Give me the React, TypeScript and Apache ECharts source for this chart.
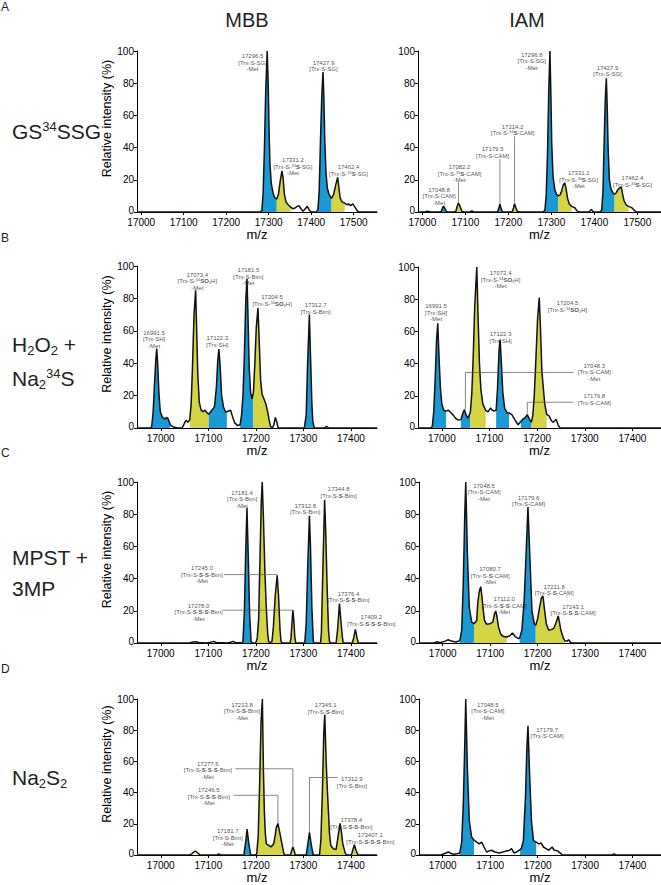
import React, { useEffect, useRef } from "react";
import * as echarts from "echarts";

type Pt = [number, number];
type Fill = [number, number, "blue" | "yellow"];
type Lab = [number, number, string];

const FONT = "'Liberation Sans', Arial, Helvetica, sans-serif";
const BLUE = "#1b99d4";
const YELLOW = "#d4d545";

// ---------- axis tick labels ----------
const ticksA = [17000, 17100, 17200, 17300, 17400, 17500];
const ticksBCD = [17000, 17100, 17200, 17300, 17400];

// ---------- A: GS34SSG ----------
const mbbA: Pt[] = [[16990,0],[17280,0],[17284,1],[17287,12],[17290,40],[17293,75],[17296.5,100],[17299,78],[17301,50],[17303,30],[17306,18],[17310,12],[17314,9],[17319,8],[17323,11],[17327,19],[17331.2,25.5],[17334,21],[17337,11],[17341,6],[17346,4.5],[17352,3],[17357,2],[17362,2.5],[17367,3.5],[17371,4],[17376,2],[17381,0.5],[17386,2],[17391,3.5],[17396,1],[17401,0],[17412,0],[17416,1.5],[17419,14],[17422,45],[17425,72],[17427.9,87],[17430,70],[17432,45],[17435,24],[17438,15],[17442,11],[17448,8.5],[17453,11],[17458,17],[17462.4,21.5],[17465,16],[17468,9],[17472,6.5],[17479,5.5],[17484,4.5],[17488,5],[17493,4],[17498,5],[17503,3],[17508,1],[17512,0],[17555,0]];
const mbbAFill: Fill[] = [[17284,17319,"blue"],[17319,17352,"yellow"],[17416,17448,"blue"],[17448,17479,"yellow"]];
const mbbALabels: Lab[] = [
  [17262, 99, "17296.5\n[Trx-S-SG]\n-Met"],
  [17429, 95, "17427.9\n[Trx-S-SG]"],
  [17357, 34.5, "17331.2\n[Trx-S-{sp|34}{bd|S}-SG]\n-Met"],
  [17488, 30, "17462.4\n[Trx-S-{sp|34}{bd|S}-SG]"],
];
const mbbALeaders: Pt[][] = [];

const iamA: Pt[] = [[16990,0],[17005,0],[17012,0.5],[17020,0],[17040,0],[17044,0.3],[17047,2.5],[17049.5,3.7],[17052,2.5],[17056,0.3],[17060,0],[17074,0],[17078,0.5],[17081,3.5],[17084,5.6],[17087,4],[17092,0.5],[17096,0],[17110,0],[17115,0.6],[17120,0],[17175,0],[17178,2.5],[17180.5,4.8],[17183,2.5],[17186,0.2],[17209,0],[17212,2.5],[17214.5,5.2],[17217,3],[17221,0.3],[17226,0],[17281,0],[17285,1],[17288,10],[17291,35],[17294,75],[17296.8,100],[17299,72],[17301,42],[17304,22],[17308,14],[17312,11],[17316,10],[17320,10.5],[17324,13],[17328,17],[17331.2,18],[17334,15],[17338,8],[17342,5],[17347,3.5],[17351,3],[17355,2.5],[17360,0.5],[17365,0],[17388,0],[17393,1.5],[17398,0],[17413,0],[17417,1],[17420,12],[17423,45],[17425.5,70],[17427.9,83],[17430,65],[17432,40],[17435,20],[17439,14],[17443,12],[17447,11],[17451,12],[17455,14],[17459,15],[17462.4,15.5],[17465,12],[17469,7],[17474,4.5],[17479,3.5],[17484,3],[17488,2.5],[17493,1],[17497,0],[17555,0]];
const iamAFill: Fill[] = [[17044,17056,"blue"],[17078,17092,"yellow"],[17175,17186,"blue"],[17209,17221,"yellow"],[17285,17316,"blue"],[17316,17347,"yellow"],[17417,17447,"blue"],[17447,17479,"yellow"]];
const iamALabels: Lab[] = [
  [17039, 16, "17048.8\n[Trx-S-CAM]\n-Met"],
  [17086.6, 30, "17082.2\n[Trx-S-{sp|34}{bd|S}-CAM]\n-Met"],
  [17163.5, 41.4, "17179.5\n[Trx-S-CAM]"],
  [17210, 55.3, "17214.2\n[Trx-S-{sp|34}{bd|S}-CAM]"],
  [17254.5, 100, "17296.8\n[Trx-S-SG]\n-Met"],
  [17430.7, 92, "17427.9\n[Trx-S-SG]"],
  [17363.7, 26.3, "17331.2\n[Trx-S-{sp|34}{bd|S}-SG]\n-Met"],
  [17488.5, 23.4, "17462.4\n[Trx-S-{sp|34}{bd|S}-SG]"],
];
const iamALeaders: Pt[][] = [
  [[17084, 5.6], [17084, 18.5]],
  [[17180.5, 4.8], [17180.5, 33]],
  [[17214.5, 5.2], [17214.5, 47]],
];

// ---------- B: H2O2 + Na2 34S ----------
const mbbB: Pt[] = [[16950,0],[16978,0],[16981,1],[16984,10],[16987,28],[16989.5,42],[16991.5,49],[16993.5,40],[16996,22],[16999,10],[17003,7],[17008,5.5],[17012,6.5],[17015,6],[17020,2],[17025,0.8],[17035,0],[17045,0],[17050,3],[17053,4.7],[17057,3.5],[17061,5],[17064,15],[17067,40],[17070,70],[17073.4,85],[17076,55],[17078,33],[17081,16],[17085,11],[17089,10],[17093,11],[17097,9.5],[17101,8.5],[17105,10],[17109,11.5],[17113,13],[17117,25],[17120,42],[17122.3,48.7],[17125,38],[17128,20],[17132,13],[17136,10],[17139,10],[17143,10.5],[17147,11],[17151,7],[17156,3],[17162,1.5],[17167,2],[17170,8],[17173,20],[17176,45],[17179,80],[17181.5,92],[17183.5,70],[17186,38],[17189,22],[17192,18],[17195,22],[17198,40],[17201,62],[17204.5,74],[17207,55],[17210,30],[17213,21],[17217,18],[17221,15],[17225,10],[17228,5],[17231,1],[17235,0],[17238,2],[17241,6.5],[17244,4],[17247,0],[17250,0],[17302,0],[17306,8],[17309,40],[17312.7,70],[17315,45],[17318,15],[17320,4],[17323,0],[17345,0],[17349,1],[17353,0],[17455,0]];
const mbbBFill: Fill[] = [[16981,17020,"blue"],[17061,17101,"yellow"],[17101,17139,"blue"],[17167,17195,"blue"],[17195,17231,"yellow"],[17302,17323,"blue"]];
const mbbBLabels: Lab[] = [
  [16986, 61, "16991.5\n[Trx-SH]\n-Met"],
  [17077, 97, "17073.4\n[Trx-S-{sp|34}{bd|SO}{sb|3}H]\n-Met"],
  [17119, 57.7, "17122.3\n[Trx-SH]"],
  [17184.4, 99.6, "17181.5\n[Trx-S-Bim]\n-Met"],
  [17234.3, 83, "17204.5\n[Trx-S-{sp|34}{bd|SO}{sb|3}H]"],
  [17326, 78, "17312.7\n[Trx-S-Bim]"],
];
const mbbBLeaders: Pt[][] = [];

const iamB: Pt[] = [[16950,0],[16977,0],[16980,1],[16983,10],[16986,30],[16989,55],[16991.5,65],[16994,45],[16997,25],[17000,15],[17004,11],[17009,10.5],[17014,11],[17019,9.5],[17024,8],[17029,6],[17034,5],[17040,5.2],[17044,9],[17047.5,11.4],[17051,8],[17055,6],[17060,10],[17063,22],[17066,45],[17069,75],[17073.4,100],[17076,70],[17079,40],[17082,24],[17086,15],[17092,11],[17097,10],[17102,12.4],[17106,11],[17110,10.5],[17114,11],[17117,25],[17120,48],[17122.3,55],[17125,40],[17128,22],[17132,12],[17137,9.5],[17141,9.3],[17147,8.3],[17153,5.2],[17160,2],[17166,4],[17170,5.5],[17175,6.5],[17179.4,8.3],[17183,6],[17188,3.5],[17191,8],[17194,20],[17197,40],[17201,68],[17204.5,81],[17207,62],[17210,35],[17213,25],[17216,15],[17220,8.5],[17225,7.5],[17230,4.5],[17234,3.5],[17240,5.5],[17244,2],[17248,0],[17460,0]];
const iamBFill: Fill[] = [[16980,17009,"blue"],[17040,17060,"blue"],[17060,17092,"yellow"],[17114,17141,"blue"],[17166,17188,"blue"],[17188,17220,"yellow"]];
const iamBLabels: Lab[] = [
  [16988, 78, "16991.5\n[Trx-SH]\n-Met"],
  [17123.4, 98.3, "17073.4\n[Trx-S-{sp|34}{bd|SO}{sb|3}H]\n-Met"],
  [17123.4, 60.7, "17122.3\n[Trx-SH]"],
  [17263.6, 79.7, "17204.5\n[Trx-S-{sp|34}{bd|SO}{sb|3}H]"],
  [17320, 41, "17048.3\n[Trx-S-CAM]\n-Met"],
  [17320, 22, "17179.8\n[Trx-S-CAM]"],
];
const iamBLeaders: Pt[][] = [
  [[17276, 34.5], [17049.5, 34.5], [17049.5, 11.4]],
  [[17276, 16], [17179.4, 16], [17179.4, 9]],
];

// ---------- C: MPST + 3MP ----------
const mbbC: Pt[] = [[16950,0],[17060,0],[17068,0.6],[17074,0.8],[17080,0.3],[17095,0],[17105,0.4],[17111,1],[17117,0.3],[17140,0],[17147,0.5],[17152,1],[17157,0.3],[17170,0],[17173,1],[17176,20],[17179,60],[17181.4,84],[17184,55],[17187,18],[17190,1],[17193,0],[17200,0],[17203,3],[17206,15],[17209,55],[17211.5,88],[17213.5,100],[17216,78],[17219,45],[17222,22],[17225,6],[17227,1],[17230,0],[17234,1],[17237,10],[17241,30],[17245,42],[17248,28],[17251,8],[17253,1],[17256,0],[17272,0],[17274,3],[17276.5,14],[17278,20.4],[17280,14],[17282,4],[17284,0],[17303,0],[17306,12],[17309,45],[17312.8,79],[17315,60],[17318,22],[17321,1],[17324,0],[17336,0],[17338,6],[17341,45],[17344.8,89],[17347,70],[17350,35],[17353,8],[17355,1],[17358,0],[17369,0],[17372,8],[17376,24.5],[17379,14],[17382,4],[17384,0],[17403,0],[17405,2],[17409.5,8.5],[17413,3],[17416,0],[17455,0]];
const mbbCFill: Fill[] = [[17173,17190,"blue"],[17203,17227,"yellow"],[17234,17253,"yellow"],[17272,17284,"yellow"],[17303,17321,"blue"],[17336,17355,"yellow"],[17369,17384,"yellow"],[17403,17416,"yellow"]];
const mbbCLabels: Lab[] = [
  [17171, 95.6, "17181.4\n[Trx-S-Bim]\n-Met"],
  [17250, 100.4, "17213.5\n[Trx-S-{bd|S}-Bim]\n-Met"],
  [17304, 87.5, "17312.8\n[Trx-S-Bim]"],
  [17374.3, 97.7, "17344.8\n[Trx-S-{bd|S}-Bim]"],
  [17395, 32.8, "17376.4\n[Trx-S-{bd|S}-{bd|S}-Bim]"],
  [17443, 18.3, "17409.2\n[Trx-S-{bd|S}-{bd|S}-{bd|S}-Bim]"],
  [17086.7, 48.9, "17245.0\n[Trx-S-{bd|S}-{bd|S}-Bim]\n-Met"],
  [17079.6, 25.6, "17278.0\n[Trx-S-{bd|S}-{bd|S}-{bd|S}-Bim]\n-Met"],
];
const mbbCLeaders: Pt[][] = [
  [[17133, 42.5], [17245, 42.5]],
  [[17131, 20.4], [17278, 20.4]],
];

const iamC: Pt[] = [[16950,0],[16982,0],[16988,0.8],[16994,0.2],[17004,1],[17011.6,2],[17018,1.2],[17028,0.6],[17036,1.5],[17040,7.9],[17043.3,37],[17046.3,78],[17048.5,100],[17051.8,57.5],[17056,22],[17061,13],[17066,12],[17071.6,14],[17073.7,24.4],[17077,32],[17080,35],[17083,28],[17085.6,20],[17088,14],[17092.6,11.6],[17099.8,12],[17105.5,13],[17109,18],[17111.8,19.9],[17114.5,16],[17117.5,10],[17122.4,5.4],[17128,4],[17135,3.7],[17140.7,4.3],[17147,6.2],[17152.7,4],[17159.8,2.7],[17162,3],[17166.8,8],[17171.7,26.5],[17176,57.5],[17179.6,84.5],[17184.5,47],[17188,20],[17193,12],[17196,11],[17200,15],[17204,22],[17208,28],[17211.2,29.2],[17214,22],[17218.3,12],[17223.3,7.9],[17228,8.3],[17233.8,9],[17238,12],[17243.5,16.8],[17246,13],[17249,7.9],[17254.7,2.7],[17258,1.2],[17262,1.2],[17265.3,2],[17269,0.5],[17272,0],[17460,0]];
const iamCFill: Fill[] = [[17036,17066,"blue"],[17066,17135,"yellow"],[17162,17196,"blue"],[17196,17258,"yellow"]];
const iamCLabels: Lab[] = [
  [17087, 100, "17048.5\n[Trx-S-CAM]\n-Met"],
  [17180.8, 92.7, "17179.6\n[Trx-S-CAM]"],
  [17099.8, 48.2, "17080.7\n[Trx-S-{bd|S}-CAM]\n-Met"],
  [17129.4, 29.6, "17112.0\n[Trx-S-{bd|S}-{bd|S}-CAM]\n-Met"],
  [17235, 37.3, "17211.8\n[Trx-S-{bd|S}-CAM]"],
  [17274.6, 24.8, "17243.1\n[Trx-S-{bd|S}-{bd|S}-CAM]"],
];
const iamCLeaders: Pt[][] = [];

// ---------- D: Na2S2 ----------
const mbbD: Pt[] = [[16950,0],[17060,0],[17066,1],[17070,2.2],[17073.4,2.5],[17077,1.5],[17082,0.3],[17088,0],[17118,0],[17122,0.8],[17127,0],[17174,0],[17175,0.5],[17178.5,8],[17181.7,16.6],[17185,8],[17189,0.5],[17192,0],[17200,0],[17202,1],[17205,12],[17208,45],[17211,85],[17213.8,100],[17216,55],[17218,28],[17220,14],[17222.2,7.2],[17227,6.2],[17232,5.2],[17237.6,7.2],[17241,13],[17243,17.6],[17246.5,20.3],[17250,15],[17255,7.2],[17259,1],[17262,0],[17273,0],[17275,2.5],[17278,5.2],[17281,2.5],[17283,0],[17306,0],[17309,6],[17312.9,14.5],[17317,6],[17321,0],[17334,0],[17337,10],[17340,40],[17343,78],[17345.1,90],[17348,60],[17350.5,42],[17352.8,28],[17355,14],[17357.7,6.2],[17363.3,4.1],[17368.9,3.5],[17373.8,13.5],[17377.4,20.3],[17380,15],[17383,7.2],[17388,1.4],[17391,0],[17400,0],[17402,1],[17407.3,6.6],[17411,3],[17415,0],[17455,0]];
const mbbDFill: Fill[] = [[17175,17189,"blue"],[17202,17259,"yellow"],[17273,17283,"yellow"],[17306,17321,"blue"],[17334,17388,"yellow"],[17400,17415,"yellow"]];
const mbbDLabels: Lab[] = [
  [17171, 98.8, "17213.8\n[Trx-S-{bd|S}-Bim]\n-Met"],
  [17347, 98.3, "17345.1\n[Trx-S-{bd|S}-Bim]"],
  [17099, 61, "17277.6\n[Trx-S-{bd|S}-{bd|S}-{bd|S}-Bim]\n-Met"],
  [17101, 44, "17246.5\n[Trx-S-{bd|S}-{bd|S}-Bim]\n-Met"],
  [17141, 17.6, "17181.7\n[Trx-S-Bim]\n-Met"],
  [17402, 51, "17312.9\n[Trx-S-Bim]"],
  [17401, 24.8, "17378.4\n[Trx-S-{bd|S}-{bd|S}-Bim]"],
  [17441, 15, "173407.1\n[Trx-S-{bd|S}-{bd|S}-{bd|S}-Bim]"],
];
const mbbDLeaders: Pt[][] = [
  [[17157, 55.3], [17278, 55.3], [17278, 5.4]],
  [[17153, 38.3], [17246.5, 38.3], [17246.5, 20.3]],
  [[17372, 49.7], [17312.9, 49.7], [17312.9, 15]],
];

const iamD: Pt[] = [[16950,0],[16995,0],[17004,1],[17012,2],[17018,1],[17023,0.6],[17029,0.8],[17033.5,1],[17036,1.5],[17040,8.3],[17043.5,34],[17046.3,69],[17048.5,100],[17052,55],[17056,22],[17061,11.4],[17066,9.7],[17071.5,8.3],[17077,7.2],[17082,8.3],[17087,5.2],[17092.5,2],[17098,2.7],[17103,3.1],[17110,2],[17119,1.4],[17127,2],[17134,2.7],[17140,3],[17145,4.1],[17150,1.4],[17156,2],[17163,3.5],[17165.5,4.1],[17170,9.3],[17174.5,38],[17177.3,69],[17179.7,82.8],[17183,52.8],[17187,21.7],[17191.3,9.3],[17197,8.3],[17202.6,7.2],[17207.5,7.7],[17212,5.2],[17218,4.1],[17223.5,3.1],[17230.5,5.2],[17235,3.1],[17242,2.7],[17247,1.4],[17253,0],[17356,0],[17361,0.8],[17366,0],[17460,0]];
const iamDFill: Fill[] = [[17036,17066,"blue"],[17163,17197,"blue"]];
const iamDLabels: Lab[] = [
  [17095, 98.8, "17048.5\n[Trx-S-CAM]\n-Met"],
  [17220, 82.8, "17179.7\n[Trx-S-CAM]"],
];
const iamDLeaders: Pt[][] = [];

// ---------- layout ----------
const panels = [
  { profile: mbbA, fills: mbbAFill, labels: mbbALabels, leaders: mbbALeaders, min: 16990, max: 17555, ticks: ticksA, grid: { left: 137, top: 51, width: 240, height: 161 }, yName: true },
  { profile: iamA, fills: iamAFill, labels: iamALabels, leaders: iamALeaders, min: 16990, max: 17555, ticks: ticksA, grid: { left: 418, top: 51, width: 243, height: 161 }, yName: false },
  { profile: mbbB, fills: mbbBFill, labels: mbbBLabels, leaders: mbbBLeaders, min: 16950, max: 17455, ticks: ticksBCD, grid: { left: 137, top: 266, width: 240, height: 162 }, yName: true },
  { profile: iamB, fills: iamBFill, labels: iamBLabels, leaders: iamBLeaders, min: 16950, max: 17460, ticks: ticksBCD, grid: { left: 418, top: 267, width: 243, height: 161 }, yName: false },
  { profile: mbbC, fills: mbbCFill, labels: mbbCLabels, leaders: mbbCLeaders, min: 16950, max: 17455, ticks: ticksBCD, grid: { left: 137, top: 482, width: 240, height: 161 }, yName: true },
  { profile: iamC, fills: iamCFill, labels: iamCLabels, leaders: iamCLeaders, min: 16950, max: 17460, ticks: ticksBCD, grid: { left: 419, top: 482, width: 242, height: 161 }, yName: false },
  { profile: mbbD, fills: mbbDFill, labels: mbbDLabels, leaders: mbbDLeaders, min: 16950, max: 17455, ticks: ticksBCD, grid: { left: 137, top: 699, width: 240, height: 161 }, yName: true },
  { profile: iamD, fills: iamDFill, labels: iamDLabels, leaders: iamDLeaders, min: 16950, max: 17460, ticks: ticksBCD, grid: { left: 419, top: 699, width: 242, height: 161 }, yName: false },
];

const supRich = { fontSize: 13, lineHeight: 13, padding: [0, 0, 10, 0], fontFamily: FONT, fill: "#222" };
const subRich = { fontSize: 13, lineHeight: 13, padding: [13, 0, 0, 0], fontFamily: FONT, fill: "#222" };

function rowText(x: number, y: number, text: string) {
  return {
    type: "text",
    x,
    y,
    style: {
      text,
      fontSize: 21,
      lineHeight: 24,
      fontFamily: FONT,
      fill: "#222",
      verticalAlign: "middle",
      rich: { sp: supRich, sb: subRich },
    },
  };
}

function buildOption() {
  const grid: any[] = [];
  const xAxis: any[] = [];
  const yAxis: any[] = [];
  const series: any[] = [];
  panels.forEach((p, i) => {
    grid.push({ ...p.grid, containLabel: false });
    xAxis.push({
      type: "value",
      gridIndex: i,
      min: p.min,
      max: p.max,
      axisLine: { show: true, lineStyle: { color: "#000", width: 1 } },
      axisTick: { show: true, length: 3, customValues: p.ticks, lineStyle: { color: "#000" } },
      axisLabel: { customValues: p.ticks, formatter: (v: number) => String(v), fontSize: 10, lineHeight: 10, color: "#000", margin: 5, fontFamily: FONT },
      splitLine: { show: false },
      name: "m/z",
      nameLocation: "middle",
      nameGap: 14,
      nameTextStyle: { fontSize: 13, lineHeight: 13, color: "#000", fontFamily: FONT },
    });
    yAxis.push({
      type: "value",
      gridIndex: i,
      min: 0,
      max: 100,
      interval: 20,
      axisLine: { show: true, lineStyle: { color: "#000", width: 1 } },
      axisTick: { show: true, length: 3, lineStyle: { color: "#000" } },
      axisLabel: {
        fontSize: 10,
        lineHeight: 8,
        color: "#000",
        margin: 3,
        fontFamily: FONT,
        formatter: (v: number) => (v === 0 ? "{z|0}" : String(v)),
        rich: { z: { fontSize: 10, lineHeight: 8, padding: [0, 0, 4, 0], color: "#000", fontFamily: FONT } },
      },
      splitLine: { show: false },
      name: p.yName ? "Relative intensity (%)" : "",
      nameLocation: "middle",
      nameGap: 16,
      nameTextStyle: { fontSize: 12.5, lineHeight: 13, color: "#000", fontFamily: FONT, padding: [0, 0, 0, 26] },
    });
    p.fills.forEach(([s, e, c]) => {
      series.push({
        type: "line",
        xAxisIndex: i,
        yAxisIndex: i,
        data: p.profile.filter((d) => d[0] >= s && d[0] <= e),
        symbol: "none",
        lineStyle: { width: 0, opacity: 0 },
        areaStyle: { color: c === "blue" ? BLUE : YELLOW, opacity: 1 },
        silent: true,
        z: 1,
      });
    });
    series.push({
      type: "line",
      xAxisIndex: i,
      yAxisIndex: i,
      data: p.profile,
      symbol: "none",
      lineStyle: { color: "#111", width: 1.5 },
      silent: true,
      z: 3,
    });
    p.leaders.forEach((l) => {
      series.push({
        type: "line",
        xAxisIndex: i,
        yAxisIndex: i,
        data: l,
        symbol: "none",
        lineStyle: { color: "#555", width: 0.7 },
        silent: true,
        z: 4,
      });
    });
    series.push({
      type: "scatter",
      xAxisIndex: i,
      yAxisIndex: i,
      symbolSize: 1,
      itemStyle: { color: "rgba(0,0,0,0)" },
      silent: true,
      z: 5,
      data: p.labels.map(([x, y, t]) => ({ name: t, value: [x, y] })),
      label: {
        show: true,
        position: "bottom",
        distance: 0,
        formatter: (q: any) => q.name,
        fontSize: 6,
        lineHeight: 6.5,
        color: "#222",
        fontFamily: FONT,
        align: "center",
        rich: {
          sp: { fontSize: 4, lineHeight: 4, verticalAlign: "top", color: "#222", fontFamily: FONT },
          sb: { fontSize: 4, lineHeight: 4, verticalAlign: "bottom", color: "#222", fontFamily: FONT },
          bd: { fontSize: 6, lineHeight: 6.5, fontWeight: "bold", color: "#222", fontFamily: FONT },
        },
      },
    });
  });

  const graphic: any[] = [
    { type: "text", x: 1, y: 1, style: { text: "A", fontSize: 12, fontFamily: FONT, fill: "#222" } },
    { type: "text", x: 1, y: 232, style: { text: "B", fontSize: 12, fontFamily: FONT, fill: "#222" } },
    { type: "text", x: 1, y: 447, style: { text: "C", fontSize: 12, fontFamily: FONT, fill: "#222" } },
    { type: "text", x: 1, y: 663, style: { text: "D", fontSize: 12, fontFamily: FONT, fill: "#222" } },
    { type: "text", x: 247, y: 20, style: { text: "MBB", fontSize: 20, fontFamily: FONT, fill: "#222", align: "center", verticalAlign: "middle" } },
    { type: "text", x: 527, y: 20, style: { text: "IAM", fontSize: 20, fontFamily: FONT, fill: "#222", align: "center", verticalAlign: "middle" } },
    rowText(12, 131, "GS{sp|34}SSG"),
    rowText(12, 344, "H{sb|2}O{sb|2} +"),
    rowText(12, 378, "Na{sb|2}{sp|34}S"),
    rowText(12, 557, "MPST +"),
    rowText(12, 588, "3MP"),
    rowText(12, 777, "Na{sb|2}S{sb|2}"),
  ];

  return { animation: false, backgroundColor: "#fff", grid, xAxis, yAxis, series, graphic };
}

export default function App() {
  const ref = useRef<HTMLDivElement>(null);
  useEffect(() => {
    if (!ref.current) return;
    const chart = echarts.init(ref.current, undefined, { renderer: "svg" });
    chart.setOption(buildOption() as any);
    return () => chart.dispose();
  }, []);
  return <div ref={ref} style={{ position: "fixed", left: 0, top: 0, width: 661, height: 885, background: "#fff" }} />;
}
